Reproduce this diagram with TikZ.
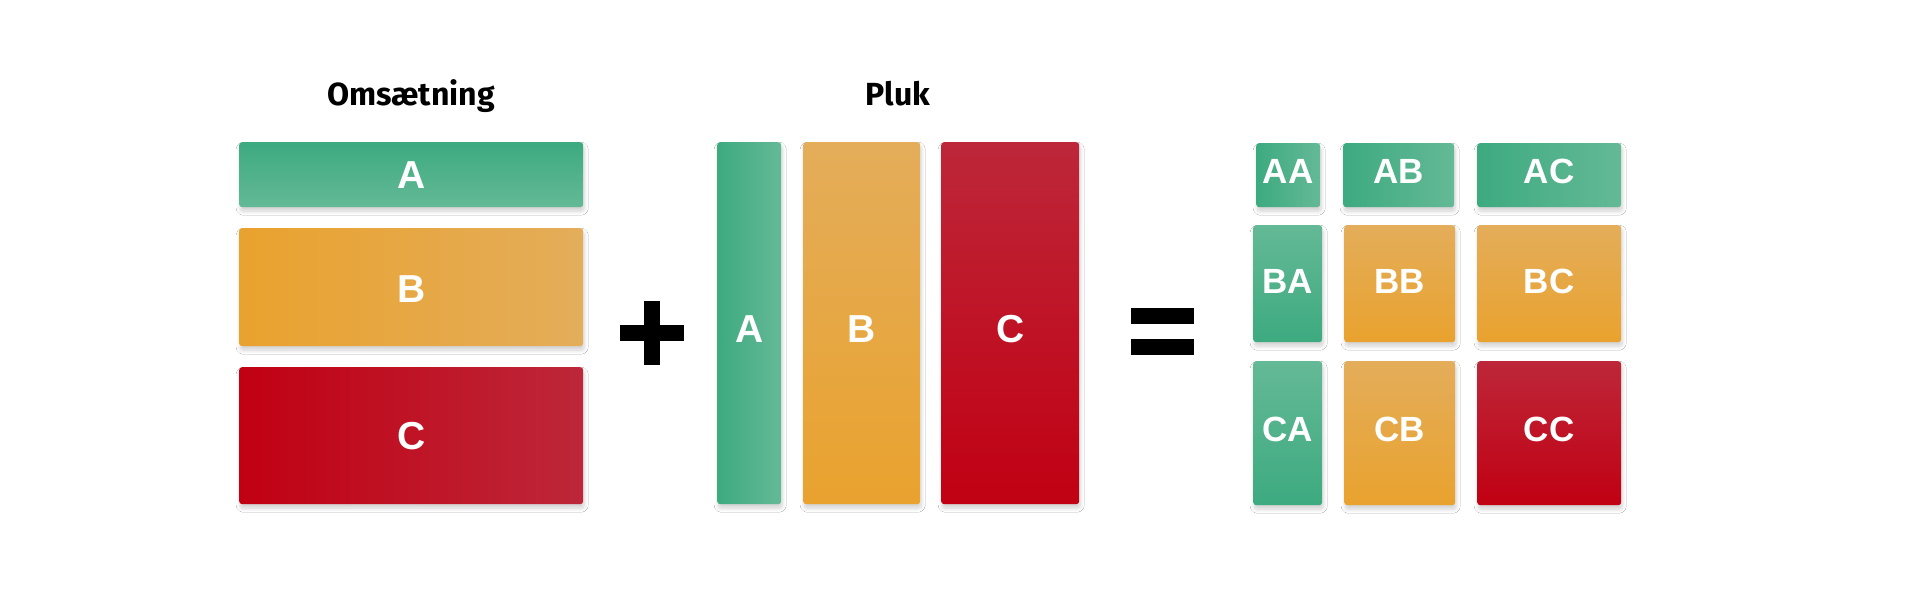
\documentclass[tikz,border=0pt]{standalone}
\usepackage{fontspec}
\setmainfont{Liberation Sans}
\newfontfamily\titlefont{Fira Sans}
\usetikzlibrary{shadows.blur}
\definecolor{gD}{HTML}{3DAA80}
\definecolor{gL}{HTML}{64B996}
\definecolor{oD}{HTML}{E9A22E}
\definecolor{oL}{HTML}{E4AD5A}
\definecolor{rD}{HTML}{C10013}
\definecolor{rL}{HTML}{BD2739}
\newcommand\liftby[2]{\raisebox{#1}[\height][\depth]{#2}}
\begin{document}
\begin{tikzpicture}[x=1pt,y=-1pt,
  box/.style={rectangle, rounded corners=3pt, inner sep=0pt, anchor=north west,
    text=white, font=\fontsize{39}{39}\selectfont\bfseries,
    blur shadow={shadow xshift=1pt, shadow yshift=-4pt, shadow blur radius=4pt, shadow blur steps=8, shadow opacity=18}},
  small/.style={font=\fontsize{35}{35}\selectfont\bfseries},
  gH/.style={left color=gD, right color=gL},
  gV/.style={top color=gD, bottom color=gL},
  gVup/.style={top color=gL, bottom color=gD},
  oH/.style={left color=oD, right color=oL},
  oV/.style={top color=oL, bottom color=oD},
  rH/.style={left color=rD, right color=rL},
  rV/.style={top color=rL, bottom color=rD},
  title/.style={anchor=base, font=\titlefont\fontsize{32}{32}\selectfont\bfseries, text=black},
  sign/.style={fill=black}
]
\useasboundingbox (0,0) rectangle (1920,594);
\fill[white] (0,0) rectangle (1920,594);

% titles
\node[title] (tO) at (411,106) {Omsætning};
\node[title] (tP) at (898,106) {Pluk};

% Omsaetning
\node[box, gV, minimum width=344pt, minimum height=65pt] (OA) at (239,142) {A};
\node[box, oH, minimum width=344pt, minimum height=118pt] (OB) at (239,228) {\liftby{-2pt}{B}};
\node[box, rH, minimum width=344pt, minimum height=137pt] (OC) at (239,367) {C};

% plus
\fill[sign] (620,325) rectangle (684,341);
\fill[sign] (644,301) rectangle (660,365);

% Pluk
\node[box, gH, minimum width=64pt, minimum height=362pt] (PA) at (717,142) {\liftby{-6pt}{A}};
\node[box, oV, minimum width=117pt, minimum height=362pt] (PB) at (803,142) {\liftby{-6pt}{B}};
\node[box, rV, minimum width=138pt, minimum height=362pt] (PC) at (941,142) {\liftby{-6pt}{C}};

% equals
\fill[sign] (1131,308) rectangle (1194,324);
\fill[sign] (1131,339) rectangle (1194,355);

% grid
\node[box, small, gH, minimum width=64pt, minimum height=64pt] (AA) at (1256,143) {\liftby{4pt}{AA}};
\node[box, small, gH, minimum width=111pt, minimum height=64pt] (AB) at (1343,143) {\liftby{4pt}{AB}};
\node[box, small, gH, minimum width=144pt, minimum height=64pt] (AC) at (1477,143) {\liftby{4pt}{AC}};

\node[box, small, gVup, minimum width=69pt, minimum height=117pt] (BA) at (1253,225) {\liftby{2pt}{BA}};
\node[box, small, oV, minimum width=111pt, minimum height=117pt] (BB) at (1344,225) {\liftby{2pt}{BB}};
\node[box, small, oV, minimum width=144pt, minimum height=117pt] (BC) at (1477,225) {\liftby{2pt}{BC}};

\node[box, small, gVup, minimum width=69pt, minimum height=144pt] (CA) at (1253,361) {\liftby{4pt}{CA}};
\node[box, small, oV, minimum width=111pt, minimum height=144pt] (CB) at (1344,361) {\liftby{4pt}{CB}};
\node[box, small, rV, minimum width=144pt, minimum height=144pt] (CC) at (1477,361) {\liftby{4pt}{CC}};
\end{tikzpicture}
\end{document}
